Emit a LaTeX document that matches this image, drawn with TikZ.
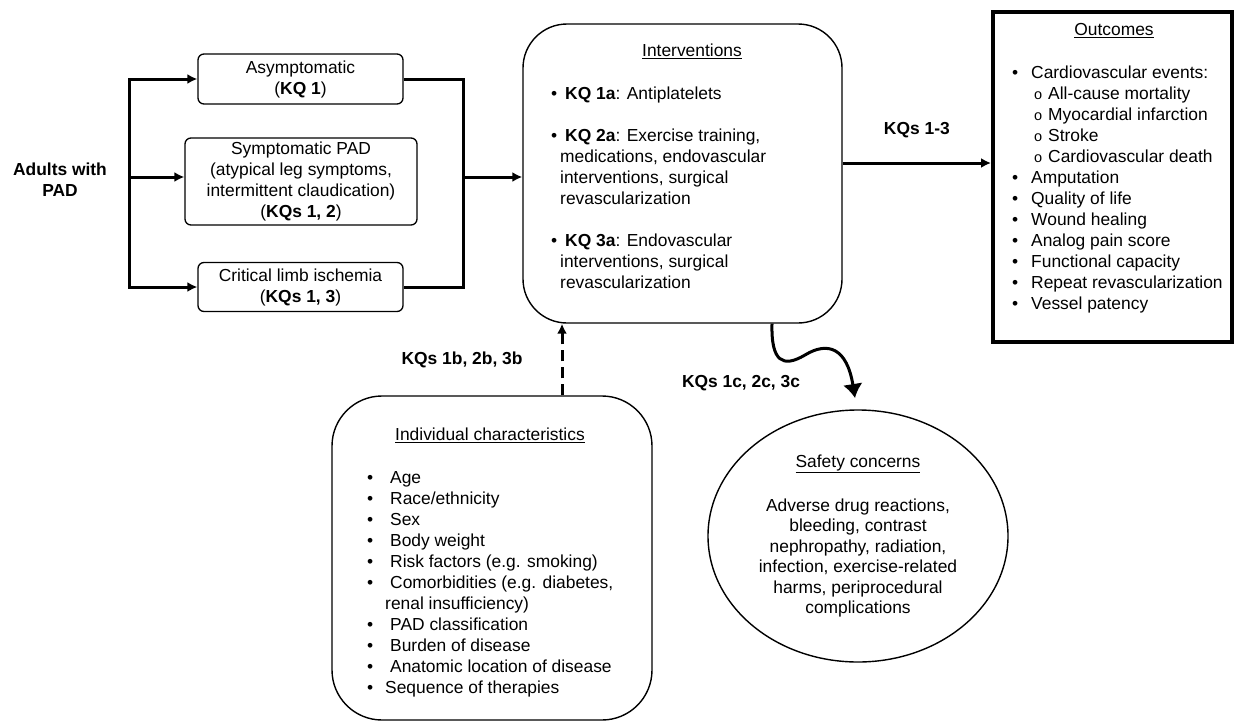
\documentclass[tikz,border=0pt]{standalone}
\usepackage{fontspec}
\setmainfont{Liberation Sans}
\usetikzlibrary{arrows.meta,positioning,calc,shapes.geometric}
\newcommand{\subo}{{\fontsize{14.5}{21}\selectfont o}}

\begin{document}
\begin{tikzpicture}[x=1pt,y=-1pt,>=Latex,
  every node/.style={font=\fontsize{17.4}{21}\selectfont,inner sep=0pt},
  kqbox/.style={draw,line width=1.3pt,rounded corners=6pt,align=center,minimum width=205pt},
  bigbox/.style={draw,line width=1.4pt,rounded corners=#1},
  kqlabel/.style={font=\fontsize{17.4}{21}\selectfont\bfseries},
  flow/.style={line width=3pt,-{Latex[length=10pt,width=10pt]}},
  plain/.style={line width=3pt},
  list/.style={anchor=north west,align=left}]
  \useasboundingbox (0,0) rectangle (1238,723);

  % population and subgroups
  \node[kqlabel,align=center] (adults) at (60,180) {Adults with\\PAD};
  \node[kqbox,minimum height=50pt] (asym) at (300.5,79) {Asymptomatic\\(\textbf{KQ 1})};
  \node[kqbox,minimum width=232pt,minimum height=87pt] (symp) at (301,181.5)
    {Symptomatic PAD\\(atypical leg symptoms,\\intermittent claudication)\\(\textbf{KQs 1, 2})};
  \node[kqbox,minimum height=49pt] (crit) at (300.5,287) {Critical limb ischemia\\(\textbf{KQs 1, 3})};

  \coordinate (lm) at (129,177);
  \coordinate (rm) at (463,177);
  \draw[flow] (lm) |- (asym.west);
  \draw[flow] (lm) |- (crit.west);
  \draw[flow] (lm) -- (lm -| symp.west);
  \draw[plain] (asym.east) -| (rm) |- (crit.east);

  % interventions
  \node[bigbox=44pt,minimum width=319pt,minimum height=299pt] (int) at (682.5,173.5) {};
  \node (inttitle) at (692,51) {\underline{Interventions}};
  \node[list] (intlist) at (551,86.5) {%
    \makebox[14pt][l]{\textbullet}\textbf{KQ 1a}: Antiplatelets\\[21pt]
    \makebox[14pt][l]{\textbullet}\textbf{KQ 2a}: Exercise training,\\
    \hspace*{9pt}medications, endovascular\\
    \hspace*{9pt}interventions, surgical\\
    \hspace*{9pt}revascularization\\[21pt]
    \makebox[14pt][l]{\textbullet}\textbf{KQ 3a}: Endovascular\\
    \hspace*{9pt}interventions, surgical\\
    \hspace*{9pt}revascularization};
  \draw[flow] (rm) -- (rm -| int.west);

  % outcomes
  \node[draw,line width=4pt,minimum width=239pt,minimum height=330pt] (out) at (1112.5,177) {};
  \node (outtitle) at (1114,31) {\underline{Outcomes}};
  \node[list] (outlist) at (1012,65.5) {%
    \makebox[19pt][l]{\textbullet}Cardiovascular events:\\
    \hspace*{22pt}\makebox[14pt][l]{\subo}All-cause mortality\\
    \hspace*{22pt}\makebox[14pt][l]{\subo}Myocardial infarction\\
    \hspace*{22pt}\makebox[14pt][l]{\subo}Stroke\\
    \hspace*{22pt}\makebox[14pt][l]{\subo}Cardiovascular death\\
    \makebox[19pt][l]{\textbullet}Amputation\\
    \makebox[19pt][l]{\textbullet}Quality of life\\
    \makebox[19pt][l]{\textbullet}Wound healing\\
    \makebox[19pt][l]{\textbullet}Analog pain score\\
    \makebox[19pt][l]{\textbullet}Functional capacity\\
    \makebox[19pt][l]{\textbullet}Repeat revascularization\\
    \makebox[19pt][l]{\textbullet}Vessel patency};
  \draw[flow] ([yshift=10.5pt]int.east) -- ([yshift=10.5pt]int.east -| out.west)
    node[midway,above=24pt,kqlabel] (kq13) {KQs 1-3};

  % individual characteristics
  \node[bigbox=50pt,minimum width=320pt,minimum height=324pt] (ind) at (492,558) {};
  \node (indtitle) at (490,435) {\underline{Individual characteristics}};
  \node[list] (indlist) at (367,471.5) {%
    \makebox[23pt][l]{\textbullet}Age\\
    \makebox[23pt][l]{\textbullet}Race/ethnicity\\
    \makebox[23pt][l]{\textbullet}Sex\\
    \makebox[23pt][l]{\textbullet}Body weight\\
    \makebox[23pt][l]{\textbullet}Risk factors (e.g. smoking)\\
    \makebox[23pt][l]{\textbullet}Comorbidities (e.g. diabetes,\\
    \hspace*{18pt}renal insufficiency)\\
    \makebox[23pt][l]{\textbullet}PAD classification\\
    \makebox[23pt][l]{\textbullet}Burden of disease\\
    \makebox[23pt][l]{\textbullet}Anatomic location of disease\\
    \makebox[18pt][l]{\textbullet}Sequence of therapies};
  \draw[flow,dash pattern=on 11pt off 6pt] ([xshift=70pt]ind.north) -- ([xshift=70pt]ind.north |- int.south)
    node[midway,left=38pt,kqlabel] (kq1b) {KQs 1b, 2b, 3b};

  % safety concerns
  \node[draw,ellipse,line width=1.4pt,minimum width=300pt,minimum height=252pt,align=center,
    font=\fontsize{17.4}{20.5}\selectfont] (safe) at (858,536)
    {\underline{Safety concerns}\\[23.5pt]Adverse drug reactions,\\bleeding, contrast\\nephropathy, radiation,\\infection, exercise-related\\harms, periprocedural\\complications};
  \coordinate (harm) at (855,398);
  \draw[line width=3pt,-{Latex[length=14pt,width=20pt]}] ([xshift=89.5pt]int.south)
    .. controls (771,362) and (783,368) .. (805,355)
    .. controls (828,341) and (847,348) .. (harm);
  \node[kqlabel] (kq1c) at (741,383) {KQs 1c, 2c, 3c};
\end{tikzpicture}
\end{document}
